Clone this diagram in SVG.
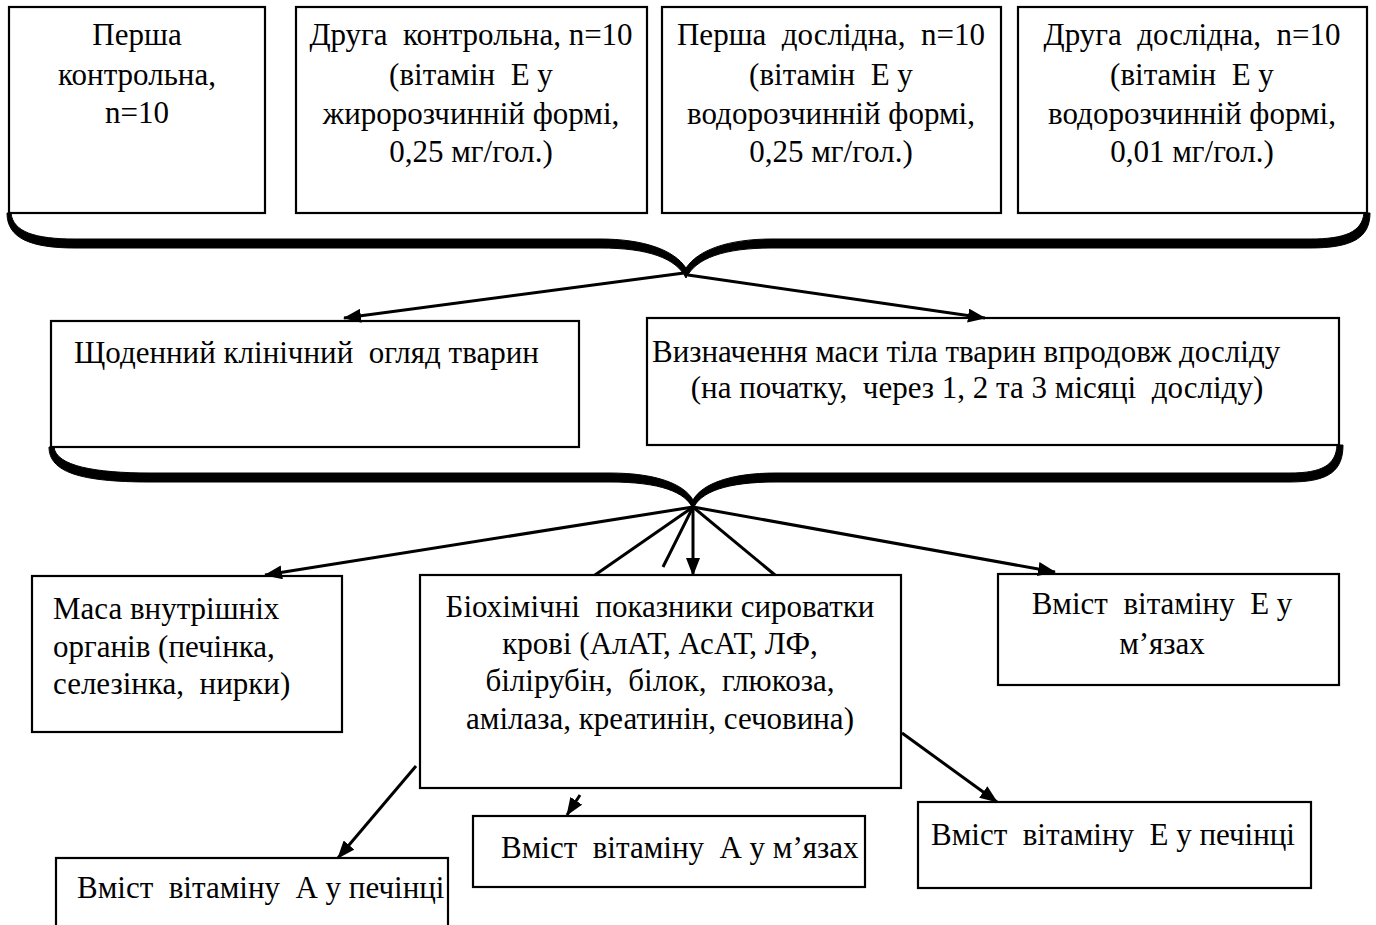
<svg xmlns="http://www.w3.org/2000/svg" width="1376" height="925" viewBox="0 0 1376 925">
<style>
  .box { fill: #fff; stroke: #000; stroke-width: 2.2; }
  .t { font-family: "Liberation Serif", "Times New Roman", serif; font-size: 31px; fill: #000; white-space: pre; }
  .c { text-anchor: middle; }
  .ln { stroke: #000; stroke-width: 3; fill: none; }
  .arr { stroke: #000; stroke-width: 3; fill: none; marker-end: url(#ah); }
  .brace { fill: #000; stroke: #000; stroke-width: 1; }
</style>
<defs>
  <marker id="ah" markerUnits="userSpaceOnUse" markerWidth="18" markerHeight="14" refX="17" refY="7" orient="auto">
    <path d="M0,0 L18,7 L0,14 Z" fill="#000"/>
  </marker>
</defs>
<rect width="1376" height="925" fill="#fff"/>

<g id="n1">
  <rect class="box" x="9" y="7" width="256" height="206"/>
  <text class="t c" x="137" y="45">Перша</text>
  <text class="t c" x="137" y="85">контрольна,</text>
  <text class="t c" x="137" y="123">n=10</text>
</g>
<g id="n2">
  <rect class="box" x="296" y="7" width="351" height="206"/>
  <text class="t c" x="471" y="45">Друга  контрольна, n=10</text>
  <text class="t c" x="471" y="85">(вітамін  Е у</text>
  <text class="t c" x="471" y="124">жиророзчинній формі,</text>
  <text class="t c" x="471" y="162">0,25 мг/гол.)</text>
</g>
<g id="n3">
  <rect class="box" x="662" y="7" width="339" height="206"/>
  <text class="t c" x="831" y="45">Перша  дослідна,  n=10</text>
  <text class="t c" x="831" y="85">(вітамін  Е у</text>
  <text class="t c" x="831" y="124">водорозчинній формі,</text>
  <text class="t c" x="831" y="162">0,25 мг/гол.)</text>
</g>
<g id="n4">
  <rect class="box" x="1018" y="7" width="349" height="206"/>
  <text class="t c" x="1192" y="45">Друга  дослідна,  n=10</text>
  <text class="t c" x="1192" y="85">(вітамін  Е у</text>
  <text class="t c" x="1192" y="124">водорозчинній формі,</text>
  <text class="t c" x="1192" y="162">0,01 мг/гол.)</text>
</g>

<g id="n5">
  <rect class="box" x="51" y="321" width="528" height="126"/>
  <text class="t" x="74" y="363">Щоденний клінічний  огляд тварин</text>
</g>
<g id="n6">
  <rect class="box" x="647" y="318" width="692" height="127"/>
  <text class="t" x="652" y="362">Визначення маси тіла тварин впродовж досліду</text>
  <text class="t c" x="977" y="398">(на початку,  через 1, 2 та 3 місяці  досліду)</text>
</g>

<g id="n7">
  <rect class="box" x="32" y="576" width="310" height="156"/>
  <text class="t" x="53" y="619">Маса внутрішніх</text>
  <text class="t" x="53" y="657">органів (печінка,</text>
  <text class="t" x="53" y="694">селезінка,  нирки)</text>
</g>
<g id="n8">
  <rect class="box" x="420" y="575" width="481" height="213"/>
  <text class="t c" x="660" y="617">Біохімічні  показники сироватки</text>
  <text class="t c" x="660" y="654">крові (АлАТ, АсАТ, ЛФ,</text>
  <text class="t c" x="660" y="691">білірубін,  білок,  глюкоза,</text>
  <text class="t c" x="660" y="729">амілаза, креатинін, сечовина)</text>
</g>
<g id="n9">
  <rect class="box" x="998" y="574" width="341" height="111"/>
  <text class="t c" x="1162" y="614">Вміст  вітаміну  Е у</text>
  <text class="t c" x="1162" y="654">м’язах</text>
</g>
<g id="n10">
  <rect class="box" x="56" y="858" width="392" height="90"/>
  <text class="t" x="77" y="898">Вміст  вітаміну  А у печінці</text>
</g>
<g id="n11">
  <rect class="box" x="473" y="816" width="392" height="71"/>
  <text class="t" x="501" y="858">Вміст  вітаміну  А у м’язах</text>
</g>
<g id="n12">
  <rect class="box" x="918" y="802" width="393" height="86"/>
  <text class="t" x="931" y="845">Вміст  вітаміну  Е у печінці</text>
</g>

<g id="connectors">
  <path class="brace" d="M7,213 C7,238 30,248 75,248 L600,248 C648,248 676,258 686,278 C696,258 724,248 772,248 L1310,248 C1352,248 1370,238 1370,213 L1364,213 C1362,232 1345,239 1310,239 L772,239 C728,239 698,250 686,268 C674,250 644,239 600,239 L75,239 C35,239 13,232 11,213 Z"/>
  <path class="brace" d="M49,447 C49,472 80,482 150,482 L610,482 C660,482 686,492 693,509 C700,492 726,482 776,482 L1290,482 C1330,482 1343,470 1343,445 L1337,445 C1336,465 1322,473 1290,473 L776,473 C730,473 702,484 693,500 C684,484 656,473 610,473 L150,473 C95,473 56,466 54,447 Z"/>
  <line class="arr" x1="684" y1="273" x2="344" y2="318"/>
  <line class="arr" x1="688" y1="275" x2="985" y2="318"/>
  <line class="arr" x1="693" y1="507" x2="265" y2="575"/>
  <line class="ln" x1="693" y1="507" x2="595" y2="575"/>
  <line class="ln" x1="693" y1="507" x2="663" y2="567"/>
  <line class="arr" x1="693" y1="507" x2="693" y2="575"/>
  <line class="ln" x1="693" y1="507" x2="775" y2="575"/>
  <line class="arr" x1="693" y1="507" x2="1055" y2="572"/>
  <line class="arr" x1="416" y1="766" x2="338" y2="858"/>
  <line class="arr" x1="580" y1="795" x2="567" y2="815"/>
  <line class="arr" x1="902" y1="733" x2="997" y2="802"/>
</g>
</svg>
